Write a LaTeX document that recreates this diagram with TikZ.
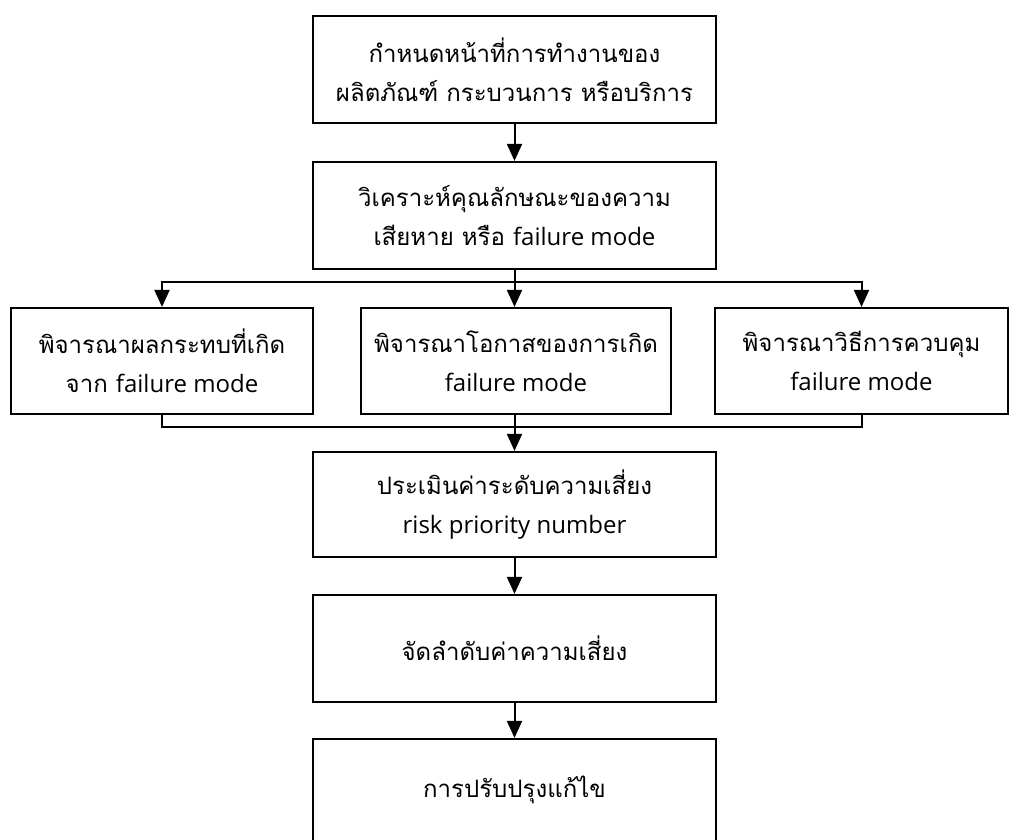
\documentclass[tikz,border=0pt]{standalone}
\usepackage{fontspec}
\usetikzlibrary{arrows.meta}
\newfontfamily\thaifont[Script=Thai]{Loma}
\newfontfamily\latinfont{Open Sans}
\newcommand{\lat}[1]{{\latinfont #1}}
\tikzset{
  box/.style={draw, line width=2.2pt, inner sep=0pt, align=center,
    font=\thaifont\fontsize{24}{39}\selectfont},
  mainbox/.style={box, minimum width=403pt, minimum height=107pt},
  line/.style={line width=2pt},
  arr/.style={line width=2pt, -{Triangle[length=17pt,width=15pt]}}
}
\begin{document}
\begin{tikzpicture}[x=1pt,y=-1pt]
\useasboundingbox (0,0) rectangle (1010,839);
% main column
\node[mainbox] (b1) at (514.5,69.5) {กำหนดหน้าที่การทำงานของ\\ผลิตภัณฑ์ กระบวนการ หรือบริการ};
\node[mainbox] (b2) at (514.5,215.5) {วิเคราะห์คุณลักษณะของความ\\เสียหาย หรือ \lat{failure mode}};
% three parallel considerations
\node[box, minimum width=302pt, minimum height=106pt] (s1) at (162,361) {พิจารณาผลกระทบที่เกิด\\จาก \lat{failure mode}};
\node[box, minimum width=310pt, minimum height=106pt] (s2) at (516,361) {พิจารณาโอกาสของการเกิด\\\lat{failure mode}};
\node[box, minimum width=293pt, minimum height=106pt] (s3) at (861.5,361) {พิจารณาวิธีการควบคุม\\\lat{failure mode}};
% lower column
\node[mainbox, minimum height=105pt] (b4) at (514.5,504.5) {ประเมินค่าระดับความเสี่ยง\\\lat{risk priority number}};
\node[mainbox] (b5) at (514.5,648.5) {จัดลำดับค่าความเสี่ยง};
\node[mainbox, minimum height=102pt] (b6) at (514.5,790) {\raisebox{5pt}{การปรับปรุงแก้ไข}};
% connectors
\draw[arr] (b1) -- (b2);
\coordinate (br) at (b2.south |- 0,282);
\draw[arr] (b2.south) -- (b2.south |- s2.north);
\draw[arr] (br) -| (s1.north);
\draw[arr] (br) -| (s3.north);
\coordinate (mg) at (b4.north |- 0,427);
\draw[line] (s1.south) |- (mg);
\draw[line] (s3.south) |- (mg);
\draw[arr] (s2.south -| b4.north) -- (b4.north);
\draw[arr] (b4) -- (b5);
\draw[arr] (b5) -- (b6);
\end{tikzpicture}
\end{document}
